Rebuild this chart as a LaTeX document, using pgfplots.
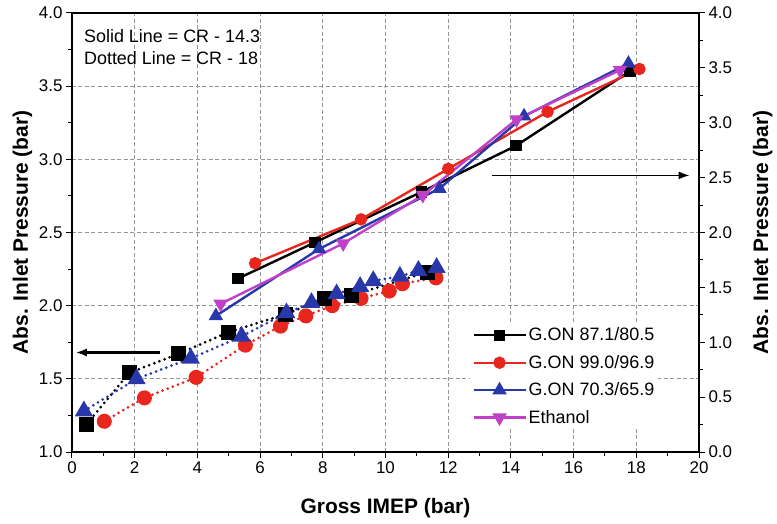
\documentclass[border=0pt]{standalone}
\usepackage{fontspec}
\setmainfont{Liberation Sans}
\usepackage{pgfplots}
\pgfplotsset{compat=1.18}
\usetikzlibrary{arrows.meta}

\definecolor{cred}{RGB}{232,38,30}
\definecolor{cblue}{RGB}{40,55,170}
\definecolor{cmag}{RGB}{190,65,200}
\definecolor{cgrid}{RGB}{150,150,150}

\pgfplotsset{
  common/.style={
    width=627bp, height=439bp, scale only axis,
    xmin=0, xmax=20,
    tick align=outside,
    major tick length=6bp, minor tick length=4bp,
    tick style={black, line width=1bp},
    axis line style={line width=1.3bp},
    tick label style={font=\fontsize{17}{20}\selectfont},
    label style={font=\fontsize{21}{25}\selectfont\bfseries},
    /pgf/number format/assume math mode=true,
  },
  dots/.style={line width=3bp, line cap=round, dash pattern=on 0bp off 5.5bp},
  solidl/.style={line width=2.4bp},
}

\begin{document}
\begin{tikzpicture}
\begin{axis}[common,
  ymin=1, ymax=4,
  xtick={0,2,...,20}, minor x tick num=1,
  ytick={1,1.5,...,4}, minor y tick num=1,
  xtick pos=left, ytick pos=left,
  yticklabel style={/pgf/number format/.cd, fixed, fixed zerofill, precision=1},
  xmajorgrids=true, ymajorgrids=true,
  major grid style={draw=cgrid, line width=1.1bp, dash pattern=on 4bp off 2.5bp},
  xlabel={Gross IMEP (bar)},
  xlabel style={yshift=-18bp},
  ylabel={Abs. Inlet Pressure (bar)},
]
\coordinate (sw) at (rel axis cs:0,0);
% CR 18 (dotted), left axis
\addplot[cred, dots, mark=*, mark size=6bp, mark options={solid}] coordinates {
(1.03,1.21) (2.31,1.37) (3.96,1.51) (5.53,1.73) (6.65,1.86) (7.46,1.93)
(8.30,2.00) (9.22,2.05) (10.12,2.10) (10.54,2.15) (11.61,2.19)
};
\addplot[black, dots, mark=square*, mark size=6bp, mark options={solid}] coordinates {
(0.47,1.19) (1.82,1.54) (3.39,1.67) (5.00,1.82) (6.80,1.94) (8.04,2.05)
(8.92,2.07) (11.35,2.23)
};
\addplot[cblue, dots, mark=triangle*, mark size=7.5bp, mark options={solid}] coordinates {
(0.38,1.28) (2.06,1.50) (3.79,1.64) (5.41,1.79) (6.84,1.95) (7.64,2.02)
(8.44,2.08) (9.19,2.13) (9.61,2.17) (10.46,2.20) (11.05,2.24) (11.63,2.26)
};
\draw[-{Latex[length=11bp,width=8bp]}, line width=2.2bp] (axis cs:2.8,1.68) -- (axis cs:0.12,1.68);
\node[anchor=north west, align=left, inner sep=0pt, font=\fontsize{18}{22}\selectfont]
  at (rel axis cs:0.019,0.962) {Solid Line = CR - 14.3\\Dotted Line = CR - 18};
\end{axis}

\begin{axis}[common,
  ymin=0, ymax=4,
  axis x line=none, axis y line*=right,
  ytick={0,0.5,...,4}, minor y tick num=1,
  yticklabel style={/pgf/number format/.cd, fixed, fixed zerofill, precision=1},
  ylabel={Abs. Inlet Pressure (bar)},
  ylabel shift=14bp,
  legend style={at={(rel axis cs:0.635,0.292)}, anchor=north west, draw=none,
    fill=white, font=\fontsize{18}{21}\selectfont, row sep=9bp, inner sep=2bp},
  legend cell align=left,
  legend image code/.code={\draw[mark repeat=2,mark phase=2,#1] plot coordinates {(0bp,0bp) (26bp,0bp) (52bp,0bp)};},
]
% CR 14.3 (solid), right axis
\addplot[black, solidl, mark=square*, mark size=4.5bp] coordinates {
(5.29,1.58) (7.75,1.91) (11.15,2.37) (14.16,2.79) (17.80,3.47)
};
\addlegendentry{G.ON 87.1/80.5}
\addplot[cred, solidl, mark=*, mark size=5bp] coordinates {
(5.84,1.72) (9.22,2.12) (12.00,2.58) (15.17,3.10) (18.10,3.49)
};
\addlegendentry{G.ON 99.0/96.9}
\addplot[cblue, solidl, mark=triangle*, mark size=6bp] coordinates {
(4.59,1.24) (7.88,1.85) (11.72,2.40) (14.42,3.06) (17.75,3.54)
};
\addlegendentry{G.ON 70.3/65.9}
\addplot[cmag, solidl, mark=triangle*, mark size=6bp, mark options={rotate=180}] coordinates {
(4.74,1.35) (8.65,1.90) (11.19,2.34) (14.18,3.03) (17.48,3.48)
};
\addlegendentry{Ethanol}
\draw[-{Latex[length=11bp,width=8bp]}, line width=1.6bp] (axis cs:13.4,2.52) -- (axis cs:19.7,2.52);
\end{axis}
\pgfresetboundingbox
\path ([shift={(-72bp,-72bp)}]sw) rectangle ([shift={(705bp,452bp)}]sw);
\end{tikzpicture}
\end{document}
